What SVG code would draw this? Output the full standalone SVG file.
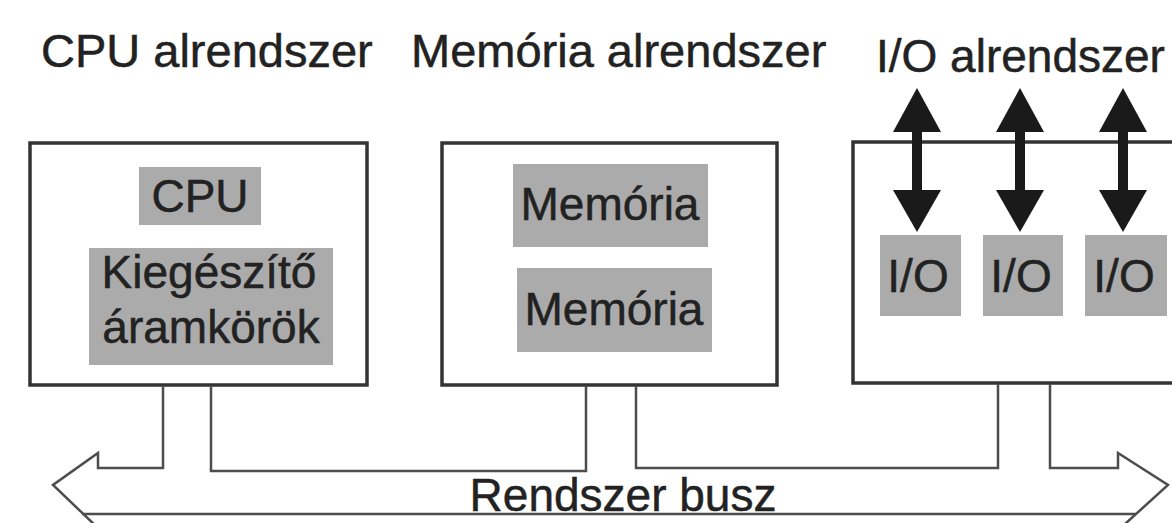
<svg xmlns="http://www.w3.org/2000/svg" width="1172" height="523" viewBox="0 0 1172 523">
  <style>
    .box { fill: #ffffff; stroke: #333333; stroke-width: 3.5; }
    .mod { fill: #ababab; }
    .lbl { font-family: "Liberation Sans", Arial, sans-serif; font-size: 46px; fill: #222222; stroke: #222222; stroke-width: 0.5; }
    .title { font-size: 47px; }
    .mid { text-anchor: middle; }
    .wire { fill: none; stroke: #4d4d4d; stroke-width: 2.5; stroke-linejoin: miter; }
    .port { fill: none; stroke: #1a1a1a; stroke-width: 10; }
    .head { fill: #1a1a1a; }
  </style>
  <defs>
    <!-- double-headed I/O port arrow, centred on x=0 -->
    <g id="ioArrow">
      <line class="port" x1="0" y1="125" x2="0" y2="196"/>
      <polygon class="head" points="0,88 -24,132 24,132"/>
      <polygon class="head" points="-24,190 24,190 0,232"/>
    </g>
  </defs>

  <rect width="1172" height="523" fill="#ffffff"/>

  <!-- CPU subsystem -->
  <g id="cpu-subsystem">
    <text class="lbl title" x="41" y="67">CPU alrendszer</text>
    <rect class="box" x="30" y="143" width="337" height="242"/>
    <g id="cpu">
      <rect class="mod" x="139" y="167" width="122" height="58" fill="#b2b2b2"/>
      <text class="lbl mid" x="200" y="212">CPU</text>
    </g>
    <g id="support-circuits">
      <rect class="mod" x="89" y="248" width="244" height="117"/>
      <text class="lbl mid" x="209" y="288">Kiegészítő</text>
      <text class="lbl mid" x="211" y="343">áramkörök</text>
    </g>
  </g>

  <!-- Memory subsystem -->
  <g id="memory-subsystem">
    <text class="lbl title" x="411" y="67">Memória alrendszer</text>
    <rect class="box" x="442" y="143" width="335" height="242"/>
    <g id="memory-1">
      <rect class="mod" x="513" y="164" width="195" height="83"/>
      <text class="lbl mid" x="610" y="220">Memória</text>
    </g>
    <g id="memory-2">
      <rect class="mod" x="517" y="268" width="195" height="84"/>
      <text class="lbl mid" x="614" y="325">Memória</text>
    </g>
  </g>

  <!-- I/O subsystem -->
  <g id="io-subsystem">
    <text class="lbl" x="876" y="72">I/O alrendszer</text>
    <rect class="box" x="853" y="142" width="340" height="241"/>
    <g id="io-1">
      <rect class="mod" x="880" y="235" width="81" height="81"/>
      <text class="lbl mid" x="918" y="292">I/O</text>
    </g>
    <g id="io-2">
      <rect class="mod" x="983" y="235" width="80" height="81"/>
      <text class="lbl mid" x="1021" y="292">I/O</text>
    </g>
    <g id="io-3">
      <rect class="mod" x="1085" y="235" width="82" height="81"/>
      <text class="lbl mid" x="1124" y="292">I/O</text>
    </g>
    <use href="#ioArrow" x="917" y="0"/>
    <use href="#ioArrow" x="1020" y="0"/>
    <use href="#ioArrow" x="1123" y="0"/>
  </g>

  <!-- System bus: hollow double arrow whose top edge is made of the taps -->
  <g id="connectors">
    <path class="wire" d="M163,386 V468 H98 V453 L53,485 L98,528"/>
    <path class="wire" d="M211,386 V471 H586 V386"/>
    <path class="wire" d="M636,386 V468 H998 V384"/>
    <path class="wire" d="M1050,384 V468 H1118 V453 L1168,485 L1125,524"/>
    <line class="wire" x1="82" y1="514" x2="1136" y2="514"/>
  </g>
  <g id="bus-label">
    <text class="lbl mid" x="623" y="511">Rendszer busz</text>
  </g>
</svg>
